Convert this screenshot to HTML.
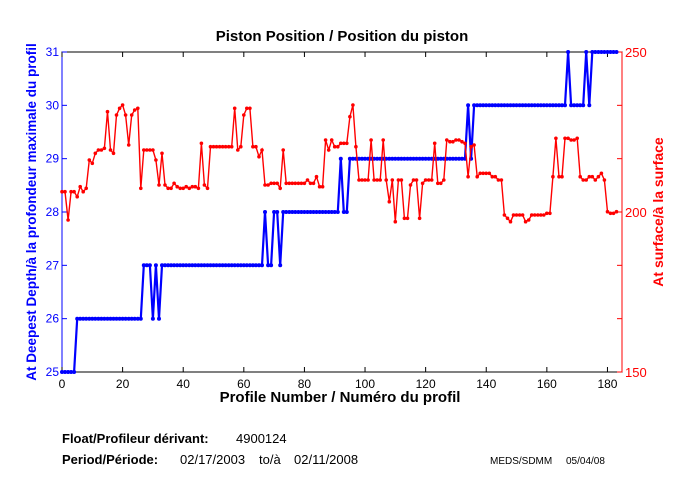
<!DOCTYPE html>
<html><head><meta charset="utf-8"><style>
body{margin:0;background:#fff;}
svg{display:block;font-family:"Liberation Sans",Arial,sans-serif;}
</style></head><body>
<svg id="s" width="680" height="500" xmlns="http://www.w3.org/2000/svg">
<rect width="680" height="500" fill="#fff"/>
<text x="342" y="41" text-anchor="middle" font-size="15" font-weight="bold">Piston Position / Position du piston</text>
<text x="340" y="402" text-anchor="middle" font-size="15" font-weight="bold">Profile Number / Numéro du profil</text>
<text transform="translate(36,212) rotate(-90)" text-anchor="middle" font-size="13.5" font-weight="bold" fill="#0000ff">At Deepest Depth/à la profondeur maximale du profil</text>
<text transform="translate(663,212) rotate(-90)" text-anchor="middle" font-size="14" font-weight="bold" fill="#ff0000">At surface/à la surface</text>
<text x="62" y="443" font-size="13" font-weight="bold">Float/Profileur dérivant:</text>
<text x="236" y="443" font-size="13">4900124</text>
<text x="62" y="464" font-size="13" font-weight="bold">Period/Période:</text>
<text x="180" y="464" font-size="13">02/17/2003</text>
<text x="259" y="464" font-size="13">to/à</text>
<text x="294" y="464" font-size="13">02/11/2008</text>
<text x="490" y="464" font-size="10">MEDS/SDMM</text>
<text x="566" y="464" font-size="10">05/04/08</text>
<g id="g"></g>
</svg>
<script>
var L=62,R=622,T=52,B=372,XM=184.8;
function X(i){return L+i*(R-L)/XM;}
var g=document.getElementById('g'),h='';
h+='<rect x="'+L+'" y="'+T+'" width="'+(R-L)+'" height="'+(B-T)+'" fill="none" stroke="#000" stroke-width="1"/>';
h+='<line x1="'+L+'" y1="'+T+'" x2="'+L+'" y2="'+B+'" stroke="#0000ff"/>';
h+='<line x1="'+R+'" y1="'+T+'" x2="'+R+'" y2="'+B+'" stroke="#ff0000"/>';
for(var t=0;t<=180;t+=20){var x=X(t);h+='<line x1="'+x+'" y1="'+B+'" x2="'+x+'" y2="'+(B-5)+'" stroke="#000"/><line x1="'+x+'" y1="'+T+'" x2="'+x+'" y2="'+(T+5)+'" stroke="#000"/><text x="'+x+'" y="388" text-anchor="middle" font-size="12">'+t+'</text>';}
for(var k=0;k<=6;k++){var y=B-k*(B-T)/6;
h+='<line x1="'+L+'" y1="'+y+'" x2="'+(L+5)+'" y2="'+y+'" stroke="#0000ff"/><text x="'+(L-3)+'" y="'+(y+4)+'" text-anchor="end" font-size="12" fill="#0000ff">'+(25+k)+'</text>';
h+='<line x1="'+R+'" y1="'+y+'" x2="'+(R-5)+'" y2="'+y+'" stroke="#ff0000"/>';}
[[150,B],[200,B-(B-T)/2],[250,T]].forEach(function(a){h+='<text x="'+(R+3)+'" y="'+(a[1]+5)+'" font-size="13" fill="#ff0000">'+a[0]+'</text>';});
var bl=[];for(var i=0;i<=183;i++){var v;
if(i<=4)v=25;else if(i<=26)v=26;else if(i<=29)v=27;else if(i==30||i==32)v=26;else if(i<=66)v=27;
else if(i==67)v=28;else if(i<=69)v=27;else if(i<=71)v=28;else if(i==72)v=27;else if(i<=91)v=28;
else if(i==92)v=29;else if(i<=94)v=28;else if(i<=133)v=29;else if(i==134)v=30;else if(i==135)v=29;
else if(i<=166)v=30;else if(i==167)v=31;else if(i<=172)v=30;else if(i==173)v=31;else if(i==174)v=30;else v=31;
bl.push([X(i),B-(v-25)*(B-T)/6]);}
var kp=[[0,455],[1,455],[1.5,573],[2,540],[2.5,455],[4,455],[4.5,475],[5,470],[5.5,435],[6.5,440],[7.5,455],[8.5,445],[9,360],[9.5,400],[10,370],[10.5,340],[12,330],[13,330],[14,325],[15.3,215],[16,330],[17,340],[18,225],[19,205],[20,195],[21,225],[22,315],[23,225],[24,210],[24.7,205],[25.5,330],[26.5,445],[27.5,330],[29,330],[29.6,215],[30.3,330],[31,360],[32,435],[33,340],[34,435],[35,445],[36,445],[37,430],[38,440],[39,445],[40,445],[41,440],[42,445],[43,440],[44,440],[45,445],[45.8,310],[46.5,435],[47.7,445],[48.5,320],[55.7,320],[56.8,205],[57.5,215],[58.3,330],[59,320],[60.5,225],[61.5,205],[62.6,320],[64,320],[64.8,350],[65.7,330],[66.4,435],[70.8,430],[72,445],[73,330],[73.6,430],[80,430],[80.8,420],[82.4,430],[84,410],[84.6,440],[86.2,440],[86.8,300],[88,330],[88.8,300],[90.6,320],[92,310],[94.5,310],[95.4,230],[96.1,195],[96.6,240],[97.2,320],[97.8,420],[101.7,420],[102.2,300],[102.8,420],[105.5,420],[106,300],[106.6,420],[107.6,420],[108.2,485],[109.1,420],[109.8,545],[110.9,420],[112,420],[113.1,535],[114.2,535],[115,435],[116.4,420],[117.5,420],[118.1,535],[118.9,430],[120.3,420],[122.5,420],[123,310],[123.8,430],[126.3,420],[126.9,300],[129.1,305],[129.6,360],[130.2,300],[132.4,305],[133.5,310],[134.1,410],[134.6,320],[136.2,315],[136.8,410],[139,400],[143.4,410],[144.5,420],[145.6,525],[146.7,535],[147.8,545],[148.9,525],[152.2,525],[153.3,545],[154.4,540],[155.5,525],[157.7,525],[160.5,520],[161.6,410],[162.7,410],[163.3,295],[164.4,410],[165.5,410],[166.4,295],[167.7,300],[170.5,295],[171,410],[172.7,420],[173.5,295],[174.4,410],[175.7,420],[176.6,410],[177.7,400],[178.8,420],[179.4,515],[182.1,520],[183.8,515]];
var rd=[];for(var i=0;i<=183;i++){var zy=kp[kp.length-1][1];
for(var j=0;j<kp.length-1;j++){if(i>=kp[j][0]&&i<=kp[j+1][0]){var a=kp[j],b=kp[j+1];
var f=(i-a[0])/(b[0]-a[0]||1);
zy=(f<0.5)?a[1]:b[1];break;}}
rd.push([X(i),40+zy/3]);}
function pl(p,c,w){return '<polyline fill="none" stroke="'+c+'" stroke-width="'+w+'" points="'+p.map(function(q){return q[0].toFixed(1)+','+q[1].toFixed(1)}).join(' ')+'"/>';}
h+=pl(bl,'#0000ff',2.2);
bl.forEach(function(q){h+='<circle cx="'+q[0].toFixed(1)+'" cy="'+q[1].toFixed(1)+'" r="2" fill="#0000ff"/>';});
h+=pl(rd,'#ff0000',1.4);
rd.forEach(function(q){h+='<circle cx="'+q[0].toFixed(1)+'" cy="'+q[1].toFixed(1)+'" r="1.8" fill="#ff0000"/>';});
g.innerHTML=h;
</script>
</body></html>
